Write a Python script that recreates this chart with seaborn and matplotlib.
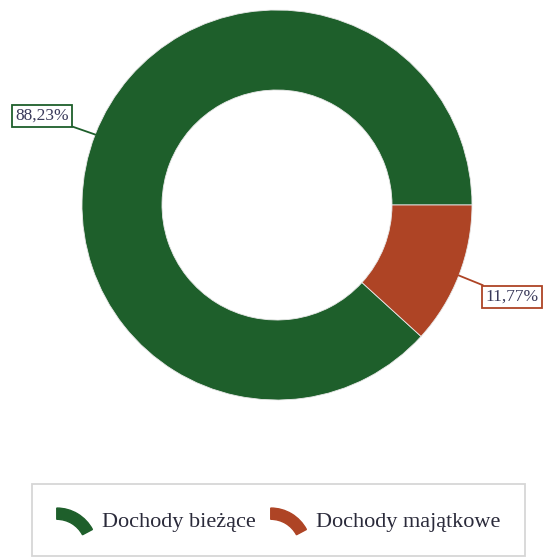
import matplotlib
matplotlib.use("Agg")
import matplotlib.pyplot as plt
import numpy as np
import seaborn as sns
from matplotlib.patches import Wedge
from matplotlib.legend_handler import HandlerPatch

categories = ["Dochody bieżące", "Dochody majątkowe"]
shares = [88.23, 11.77]
labels = ["88,23%", "11,77%"]
colors = ["#1e5f2b", "#ae4425"]

sns.set_theme(style="white")
plt.rcParams['font.family'] = ['Liberation Serif', 'DejaVu Serif']

W, H = 547, 558
fig = plt.figure(figsize=(W / 100, H / 100), dpi=100)
ax = fig.add_axes([0, 0, 1, 1])

cx, cy, r = 277, H - 205, 195
wedges, _ = ax.pie(shares, colors=colors, startangle=0, counterclock=True,
                   center=(cx, cy), radius=r,
                   wedgeprops=dict(width=80, edgecolor="#e8e8e8", linewidth=0.6))

# labels with leader lines
label_pos = [(42, H - 116), (512, H - 297)]
for w, lab, col, (tx, ty) in zip(wedges, labels, colors, label_pos):
    ang = np.deg2rad((w.theta1 + w.theta2) / 2)
    px, py = cx + r * np.cos(ang), cy + r * np.sin(ang)
    ax.annotate(lab, xy=(px, py), xytext=(tx, ty), ha="center", va="center",
                fontsize=12.5, color="#3a3a5a",
                bbox=dict(boxstyle="square,pad=0.18", fc="white", ec=col, lw=1.3),
                arrowprops=dict(arrowstyle="-", color=col, lw=1.3, shrinkA=0, shrinkB=0))


class ArcHandler(HandlerPatch):
    def create_artists(self, legend, orig_handle, xdescent, ydescent,
                       width, height, fontsize, trans):
        R = width * 1.15
        top = -ydescent + height * 1.0
        w = Wedge((-xdescent, top - R), R, 28, 90,
                  width=width * 0.32, color=orig_handle.get_facecolor(),
                  transform=trans)
        return [w]


handles = [Wedge((0, 0), 1, 0, 90, color=c) for c in colors]
leg = ax.legend(handles, categories, loc="center", bbox_to_anchor=(278.5 / W, 1 - 520 / H),
                ncol=2, fontsize=16, frameon=True, fancybox=False,
                edgecolor="#cccccc", borderpad=1.1, handlelength=1.58, handleheight=1.2,
                columnspacing=0.68, handletextpad=0.45,
                handler_map={Wedge: ArcHandler()})
leg.get_frame().set_linewidth(1.3)
for t in leg.get_texts():
    t.set_color("#2a2a3a")

ax.set_xlim(0, W)
ax.set_ylim(0, H)
ax.set_aspect("equal")
ax.axis("off")

fig.savefig("out.png", dpi=100)
